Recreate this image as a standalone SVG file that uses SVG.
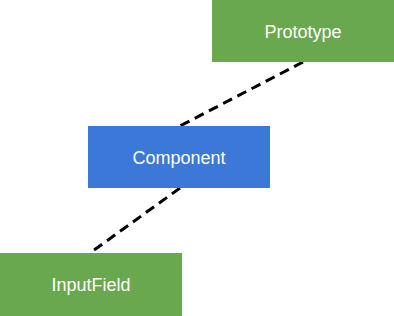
<svg xmlns="http://www.w3.org/2000/svg" width="394" height="316" viewBox="0 0 394 316">
<style>
.g{fill:#6aa84f}
.b{fill:#3c78d8}
.t{fill:#ffffff;font-family:"Liberation Sans",Arial,sans-serif;font-size:18px;text-anchor:middle;dominant-baseline:central}
.e{stroke:#000;stroke-width:3;stroke-dasharray:10,6;fill:none}
</style>
<rect width="394" height="316" fill="#fff"/>
<g id="edges">
<line class="e" x1="303" y1="62" x2="180" y2="126"/>
<line class="e" x1="180" y1="188" x2="90" y2="253"/>
</g>
<g id="prototype"><rect class="g" x="212" y="0" width="182" height="62"/><text class="t" x="303" y="32">Prototype</text></g>
<g id="component"><rect class="b" x="88" y="126" width="182" height="62"/><text class="t" x="179" y="158">Component</text></g>
<g id="inputfield"><rect class="g" x="0" y="253" width="182" height="63"/><text class="t" x="91" y="285">InputField</text></g>
</svg>
